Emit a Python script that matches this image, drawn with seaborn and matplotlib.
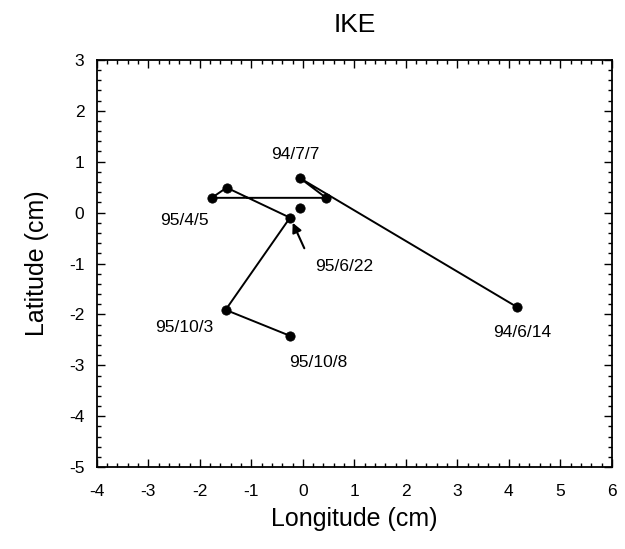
import matplotlib
matplotlib.use("Agg")
import matplotlib.pyplot as plt
from matplotlib.ticker import MultipleLocator
import seaborn as sns
import pandas as pd

sns.set_style("ticks")
plt.rcParams['font.family'] = ['Liberation Sans', 'DejaVu Sans']
plt.rcParams['axes.unicode_minus'] = False
plt.rcParams['text.color'] = 'black'
plt.rcParams['xtick.color'] = 'black'
plt.rcParams['ytick.color'] = 'black'
plt.rcParams['axes.labelcolor'] = 'black'
plt.rcParams['axes.edgecolor'] = 'black'

# path of positions (longitude, latitude in cm)
path_lon = [4.15, -0.06, 0.45, -1.77, -1.48, -0.25, -1.50, -0.25]
path_lat = [-1.85, 0.68, 0.29, 0.29, 0.49, -0.10, -1.91, -2.42]
# isolated point
extra_lon = [-0.06]
extra_lat = [0.09]

labels = ["94/6/14", "94/7/7", "95/4/5", "95/6/22", "95/10/3", "95/10/8"]
label_x = [4.25, -0.15, -2.3, 0.8, -2.3, 0.3]
label_y = [-2.35, 1.15, -0.15, -1.05, -2.25, -2.95]

df = pd.DataFrame({"lon": path_lon, "lat": path_lat, "order": range(len(path_lon))})
df_extra = pd.DataFrame({"lon": extra_lon, "lat": extra_lat})

fig = plt.figure(figsize=(6.25, 5.49), dpi=100)
ax = fig.add_axes([0.155, 0.149, 0.824, 0.742])

sns.lineplot(data=df, x="lon", y="lat", sort=False, estimator=None, color="black",
             linewidth=1.4, ax=ax)
sns.scatterplot(data=pd.concat([df[["lon", "lat"]], df_extra]), x="lon", y="lat",
                color="black", s=45, edgecolor="black", zorder=5, ax=ax)

for t, x, y in zip(labels, label_x, label_y):
    ax.text(x, y, t, fontsize=12.5, ha="center", va="center", fontweight="medium")

ax.annotate("", xy=(-0.22, -0.15), xytext=(0.05, -0.75),
            arrowprops=dict(arrowstyle="-|>", color="black", lw=1.5, mutation_scale=14))

ax.set_xlim(-4, 6)
ax.set_ylim(-5, 3)
ax.xaxis.set_major_locator(MultipleLocator(1))
ax.xaxis.set_minor_locator(MultipleLocator(0.2))
ax.yaxis.set_major_locator(MultipleLocator(1))
ax.yaxis.set_minor_locator(MultipleLocator(0.2))
ax.tick_params(which="both", direction="in", top=True, right=True, labelsize=12.5)
ax.tick_params(which="major", length=6, width=1)
ax.tick_params(which="minor", length=3, width=1)
ax.tick_params(axis="x", which="major", pad=12)
ax.tick_params(axis="y", which="major", pad=9)
for s in ax.spines.values():
    s.set_linewidth(1.3)

ax.set_xlabel("Longitude (cm)", fontsize=18, labelpad=6)
ax.set_ylabel("Latitude (cm)", fontsize=18, labelpad=14)
ax.set_title("IKE", fontsize=19, pad=20, fontweight="medium")

fig.savefig("out.png", dpi=100)
